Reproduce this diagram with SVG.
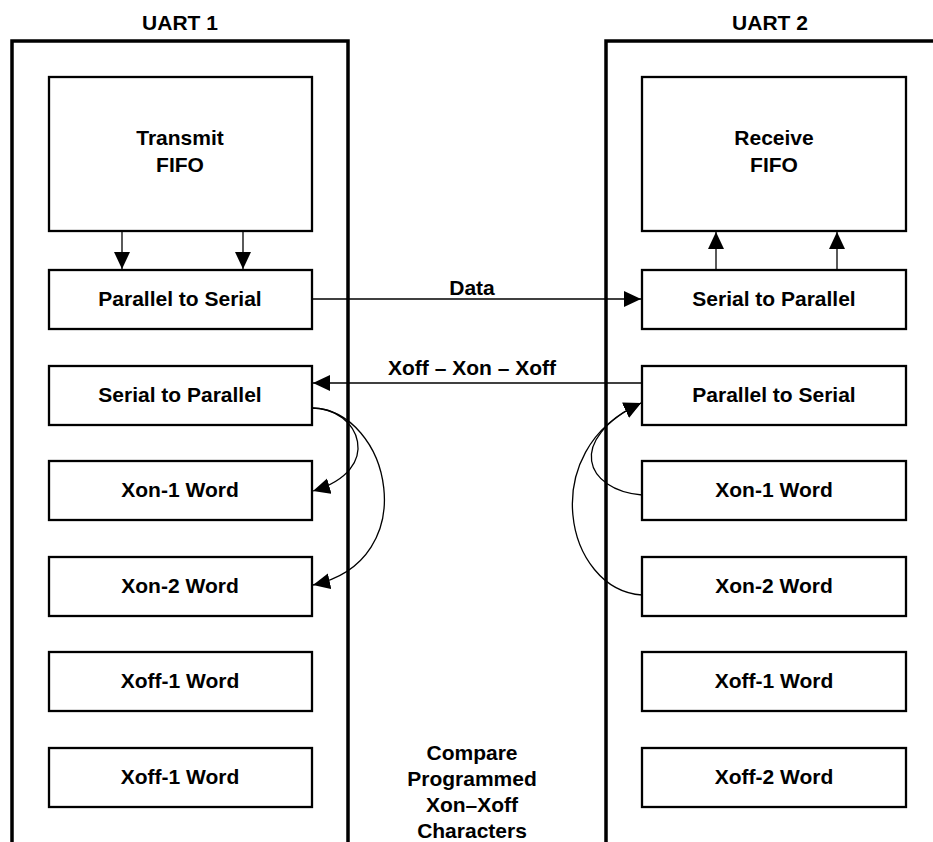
<svg xmlns="http://www.w3.org/2000/svg" width="933" height="842" viewBox="0 0 933 842">
<style>
.uart{fill:none;stroke:#000;stroke-width:3.5}
.box{fill:#fff;stroke:#000;stroke-width:2.3}
.t{font-family:"Liberation Sans",Arial,sans-serif;font-weight:bold;font-size:21px;text-anchor:middle;fill:#000}
.c{fill:none;stroke:#000;stroke-width:1.3}
</style>
<defs>
<marker id="ah" markerUnits="userSpaceOnUse" markerWidth="18" markerHeight="17" refX="17" refY="8" orient="auto" viewBox="0 0 18 17">
<path d="M0,0 L17,8 L0,16 z" fill="#000"/>
</marker>
</defs>
<rect width="933" height="842" fill="#fff"/>
<g id="uart1">
<path class="uart" d="M12,845 V41 H348 V845"/>
<text class="t" x="180" y="30">UART 1</text>
</g>
<g id="uart2">
<path class="uart" d="M606,845 V41 H940"/>
<text class="t" x="770" y="30">UART 2</text>
</g>
<g id="transmit-fifo">
<rect class="box" x="49" y="77" width="263" height="154"/>
<text class="t" x="180" y="145">Transmit</text>
<text class="t" x="180" y="172">FIFO</text>
</g>
<g id="u1-p2s">
<rect class="box" x="49" y="270" width="263" height="59"/>
<text class="t" x="180" y="305.5">Parallel to Serial</text>
</g>
<g id="u1-s2p">
<rect class="box" x="49" y="366" width="263" height="59"/>
<text class="t" x="180" y="401.5">Serial to Parallel</text>
</g>
<g id="u1-xon1">
<rect class="box" x="49" y="461" width="263" height="59"/>
<text class="t" x="180" y="496.5">Xon-1 Word</text>
</g>
<g id="u1-xon2">
<rect class="box" x="49" y="557" width="263" height="59"/>
<text class="t" x="180" y="592.5">Xon-2 Word</text>
</g>
<g id="u1-xoff1">
<rect class="box" x="49" y="652" width="263" height="59"/>
<text class="t" x="180" y="687.5">Xoff-1 Word</text>
</g>
<g id="u1-xoff1b">
<rect class="box" x="49" y="748" width="263" height="59"/>
<text class="t" x="180" y="783.5">Xoff-1 Word</text>
</g>
<g id="receive-fifo">
<rect class="box" x="642" y="77" width="264" height="154"/>
<text class="t" x="774" y="145">Receive</text>
<text class="t" x="774" y="172">FIFO</text>
</g>
<g id="u2-s2p">
<rect class="box" x="642" y="270" width="264" height="59"/>
<text class="t" x="774" y="305.5">Serial to Parallel</text>
</g>
<g id="u2-p2s">
<rect class="box" x="642" y="366" width="264" height="59"/>
<text class="t" x="774" y="401.5">Parallel to Serial</text>
</g>
<g id="u2-xon1">
<rect class="box" x="642" y="461" width="264" height="59"/>
<text class="t" x="774" y="496.5">Xon-1 Word</text>
</g>
<g id="u2-xon2">
<rect class="box" x="642" y="557" width="264" height="59"/>
<text class="t" x="774" y="592.5">Xon-2 Word</text>
</g>
<g id="u2-xoff1">
<rect class="box" x="642" y="652" width="264" height="59"/>
<text class="t" x="774" y="687.5">Xoff-1 Word</text>
</g>
<g id="u2-xoff2">
<rect class="box" x="642" y="748" width="264" height="59"/>
<text class="t" x="774" y="783.5">Xoff-2 Word</text>
</g>
<g id="compare-label">
<text class="t" x="472" y="760">Compare</text>
<text class="t" x="472" y="786">Programmed</text>
<text class="t" x="472" y="812">Xon–Xoff</text>
<text class="t" x="472" y="838">Characters</text>
</g>
<g id="connectors">
<line class="c" x1="122" y1="232" x2="122" y2="269" marker-end="url(#ah)"/>
<line class="c" x1="243" y1="232" x2="243" y2="269" marker-end="url(#ah)"/>
<line class="c" x1="716" y1="269" x2="716" y2="232" marker-end="url(#ah)"/>
<line class="c" x1="837" y1="269" x2="837" y2="232" marker-end="url(#ah)"/>
<line class="c" x1="313" y1="299" x2="641" y2="299" marker-end="url(#ah)"/>
<text class="t" x="472" y="295">Data</text>
<line class="c" x1="641" y1="383" x2="313" y2="383" marker-end="url(#ah)"/>
<text class="t" x="472" y="375">Xoff – Xon – Xoff</text>
<path class="c" d="M312,408 C360,408 385,470 313,491" marker-end="url(#ah)"/>
<path class="c" d="M312,408 C390,410 425,560 313,585" marker-end="url(#ah)"/>
<path class="c" d="M642,495 C585,490 565,440 641,403" marker-end="url(#ah)"/>
<path class="c" d="M642,595 C565,590 535,450 641,403" marker-end="url(#ah)"/>
</g>
</svg>
